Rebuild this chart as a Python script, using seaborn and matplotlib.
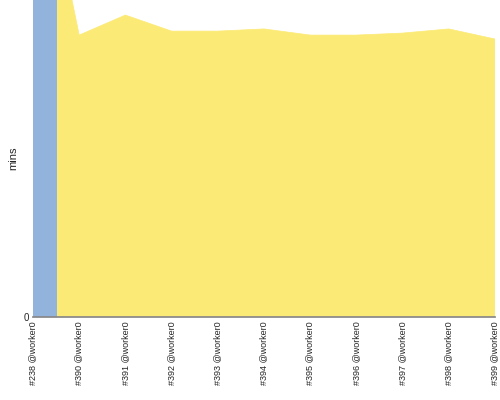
import matplotlib
matplotlib.use("Agg")
import matplotlib.pyplot as plt
import seaborn as sns
import numpy as np

labels = ["#238 @worker0", "#390 @worker0", "#391 @worker0", "#392 @worker0", "#393 @worker0",
          "#394 @worker0", "#395 @worker0", "#396 @worker0", "#397 @worker0", "#398 @worker0", "#399 @worker0"]
yellow_vals = [25.6, 14.23, 15.24, 14.43, 14.43, 14.54, 14.23, 14.23, 14.33, 14.54, 14.03]
blue_vals = [40.0]

sns.set_theme(style="white")
plt.rcParams['font.family'] = ['Liberation Sans', 'DejaVu Sans']

fig = plt.figure(figsize=(5, 4), dpi=100)
ax = fig.add_axes([33/500, 83/400, 462/500, 317/400])
x = np.arange(len(labels))
ax.fill_between(x, 0, yellow_vals, color="#fcea76", lw=0, zorder=1)
sns.lineplot(x=x, y=yellow_vals, ax=ax, color="#fcea76", lw=0.5, zorder=1)
ax.fill_between([0, 0.52], 0, [blue_vals[0]] * 2, color="#91b3dc", lw=0, zorder=2)
ax.set_xlim(0, len(labels) - 1)
ax.set_ylim(0, 16)
ax.set_yticks([0])
ax.set_yticklabels(["0"], fontsize=7)
ax.set_xticks(x)
ax.set_xticklabels(labels, rotation=90, fontsize=6.5)
ax.set_ylabel("mins", fontsize=8)
for s in ["top", "right", "left"]:
    ax.spines[s].set_visible(False)
ax.spines["bottom"].set_color("#888888")
ax.tick_params(axis="both", length=0, pad=3)
fig.savefig("out.png", dpi=100)
